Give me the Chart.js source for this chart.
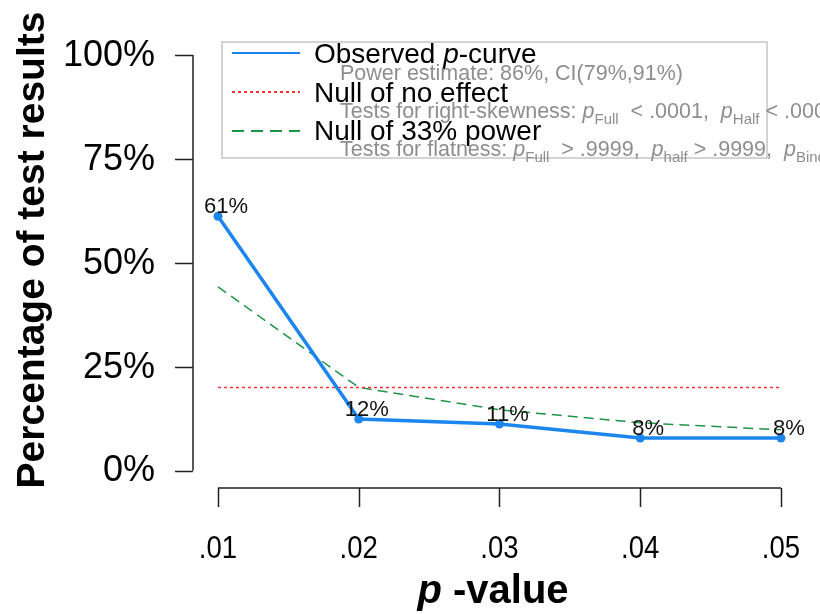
<!DOCTYPE html>
<html lang="en">
  <head>
    <meta charset="UTF-8" />
    <title>p-curve</title>
    <style>
      body { margin: 0; background: #fff; }
      #box { width: 820px; height: 614px; }
    </style>
  </head>
  <body>
    <div id="box">
      <canvas id="myChart" width="820" height="614"></canvas>
    </div>
  </body>
</html>
<script src="https://cdn.jsdelivr.net/npm/chart.js"></script>
<script>
  // data
  var pValues = [0.01, 0.02, 0.03, 0.04, 0.05];
  var xTickLabels = [".01", ".02", ".03", ".04", ".05"];
  var observed = [61.2, 12.4, 11.2, 7.8, 7.8];
  var obsLabels = ["61%", "12%", "11%", "8%", "8%"];
  var nullNoEffect = [20, 20, 20, 20, 20];
  var null33 = [44.2, 20, 14.6, 11.5, 9.8];
  var yTicks = [0, 25, 50, 75, 100];

  var blue = "#1C86EE";
  var red = "#FF3030";
  var green = "#1E9448";
  var gray = "#8e8e8e";
  var font = "'Liberation Sans', Arial, sans-serif";

  function pts(vals) {
    var out = [];
    for (var c = 0; c < vals.length; c++) {
      out.push({ x: pValues[c], y: vals[c] });
    }
    return out;
  }

  // draws a line of text with italic p's and subscripts
  function richText(ctx, x, y, parts, size, color) {
    ctx.fillStyle = color;
    ctx.textAlign = "left";
    ctx.textBaseline = "alphabetic";
    for (var c = 0; c < parts.length; c++) {
      var t = parts[c][0], st = parts[c][1];
      var dy = 0;
      if (st == "i") ctx.font = "italic " + size + "px " + font;
      else if (st == "s") { ctx.font = Math.round(size * 0.7) + "px " + font; dy = size * 0.3; }
      else ctx.font = size + "px " + font;
      ctx.fillText(t, x, y + dy);
      x += ctx.measureText(t).width;
    }
  }

  var rAxes = {
    id: "rAxes",
    afterDraw: function (chart) {
      var ctx = chart.ctx;
      var xs = chart.scales.x, ys = chart.scales.y;
      ctx.save();
      ctx.strokeStyle = "#222";
      ctx.lineWidth = 1.5;

      // y axis, R style
      var ax = 193;
      ctx.beginPath();
      ctx.moveTo(ax, ys.getPixelForValue(0));
      ctx.lineTo(ax, ys.getPixelForValue(100));
      for (var c = 0; c < yTicks.length; c++) {
        var py = Math.round(ys.getPixelForValue(yTicks[c])) + 0.5;
        ctx.moveTo(ax, py);
        ctx.lineTo(175, py);
      }
      ctx.stroke();
      ctx.fillStyle = "#000";
      ctx.font = "36px " + font;
      ctx.textAlign = "right";
      ctx.textBaseline = "middle";
      for (var c = 0; c < yTicks.length; c++) {
        ctx.fillText(yTicks[c] + "%", 155, ys.getPixelForValue(yTicks[c]) + 1);
      }

      // x axis
      var ay = 488;
      ctx.beginPath();
      ctx.moveTo(xs.getPixelForValue(pValues[0]), ay);
      ctx.lineTo(xs.getPixelForValue(pValues[pValues.length - 1]), ay);
      for (var c = 0; c < pValues.length; c++) {
        var px = Math.round(xs.getPixelForValue(pValues[c])) + 0.5;
        ctx.moveTo(px, ay);
        ctx.lineTo(px, 507);
      }
      ctx.stroke();
      ctx.font = "32px " + font;
      ctx.textAlign = "center";
      ctx.textBaseline = "alphabetic";
      for (var c = 0; c < pValues.length; c++) {
        ctx.save();
        ctx.translate(xs.getPixelForValue(pValues[c]), 558);
        ctx.scale(0.86, 1);
        ctx.fillText(xTickLabels[c], 0, 0);
        ctx.restore();
      }

      // axis titles
      ctx.font = "italic bold 40px " + font;
      var w1 = ctx.measureText("p").width;
      ctx.font = "bold 40px " + font;
      var w2 = ctx.measureText(" -value").width;
      var sx = 493 - (w1 + w2) / 2;
      ctx.textAlign = "left";
      ctx.font = "italic bold 40px " + font;
      ctx.fillText("p", sx, 603);
      ctx.font = "bold 40px " + font;
      ctx.fillText(" -value", sx + w1, 603);

      ctx.save();
      ctx.translate(44, 250);
      ctx.rotate(-Math.PI / 2);
      ctx.textAlign = "center";
      ctx.font = "bold 39px " + font;
      ctx.fillText("Percentage of test results", 0, 0);
      ctx.restore();

      // value labels on the observed curve
      var meta = chart.getDatasetMeta(0);
      ctx.font = "22px " + font;
      ctx.textAlign = "center";
      ctx.fillStyle = "#111";
      for (var c = 0; c < meta.data.length; c++) {
        ctx.fillText(obsLabels[c], meta.data[c].x + 8, meta.data[c].y - 3);
      }

      // legend
      ctx.strokeStyle = "#d4d4d4";
      ctx.lineWidth = 2;
      ctx.strokeRect(222, 42, 545, 116);

      ctx.lineWidth = 2;
      ctx.strokeStyle = blue;
      ctx.beginPath(); ctx.moveTo(232, 53); ctx.lineTo(300, 53); ctx.stroke();
      ctx.strokeStyle = red;
      ctx.setLineDash([3, 3]);
      ctx.beginPath(); ctx.moveTo(232, 92); ctx.lineTo(300, 92); ctx.stroke();
      ctx.strokeStyle = green;
      ctx.setLineDash([12, 7]);
      ctx.beginPath(); ctx.moveTo(232, 131); ctx.lineTo(300, 131); ctx.stroke();
      ctx.setLineDash([]);

      richText(ctx, 314, 63, [["Observed ", "n"], ["p", "i"], ["-curve", "n"]], 28, "#000");
      richText(ctx, 314, 102, [["Null of no effect", "n"]], 28, "#000");
      richText(ctx, 314, 140, [["Null of 33% power", "n"]], 28, "#000");

      richText(ctx, 340, 80, [["Power estimate: 86%, CI(79%,91%)", "n"]], 21.5, gray);
      richText(ctx, 340, 118, [["Tests for right-skewness: ", "n"], ["p", "i"], ["Full", "s"], ["  < .0001,  ", "n"], ["p", "i"], ["Half", "s"], [" < .0001", "n"]], 21.5, gray);
      richText(ctx, 340, 156, [["Tests for flatness: ", "n"], ["p", "i"], ["Full", "s"], ["  > .9999,  ", "n"], ["p", "i"], ["half", "s"], [" > .9999,  ", "n"], ["p", "i"], ["Binomial", "s"], [" > .9999", "n"]], 21.5, gray);

      ctx.restore();
    },
  };

  const data = {
    datasets: [
      {
        label: "Observed p-curve",
        data: pts(observed),
        borderColor: blue,
        backgroundColor: blue,
        borderWidth: 3.5,
        pointRadius: 4.5,
        pointBorderWidth: 0,
      },
      {
        label: "Null of no effect",
        data: pts(nullNoEffect),
        borderColor: red,
        borderWidth: 1.5,
        borderDash: [3, 3],
        pointRadius: 0,
      },
      {
        label: "Null of 33% power",
        data: pts(null33),
        borderColor: green,
        borderWidth: 1.5,
        borderDash: [10, 6],
        pointRadius: 0,
      },
    ],
  };

  const config = {
    type: "line",
    data: data,
    options: {
      responsive: false,
      animation: false,
      clip: false,
      layout: {
        padding: { left: 218, right: 39, top: 55, bottom: 143.5 },
      },
      scales: {
        x: { type: "linear", min: 0.01, max: 0.05, display: false },
        y: { min: 0, max: 100, display: false },
      },
      plugins: {
        legend: { display: false },
        tooltip: { enabled: false },
      },
    },
    plugins: [rAxes],
  };

  const myChart = new Chart(document.getElementById("myChart"), config);
</script>
